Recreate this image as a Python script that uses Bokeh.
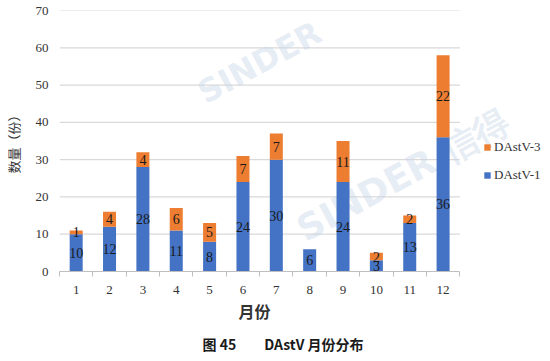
from bokeh.plotting import figure
from bokeh.models import ColumnDataSource, Legend, LegendItem, Label, Title, FixedTicker, Range1d
from bokeh.core.properties import value
from bokeh.embed import file_html
from bokeh.resources import INLINE

months = [1, 2, 3, 4, 5, 6, 7, 8, 9, 10, 11, 12]
dastv1 = [10, 12, 28, 11, 8, 24, 30, 6, 24, 3, 13, 36]
dastv3 = [1, 4, 4, 6, 5, 7, 7, 0, 11, 2, 2, 22]
series_names = ["DAstV-1", "DAstV-3"]
colors = ["#4472C4", "#ED7D31"]
y_ticks = [0, 10, 20, 30, 40, 50, 60, 70]

SERIF = "Liberation Serif"
CJK = "Noto Sans CJK SC"

# plot area spans 0.5..12.5 (about 406 px); frame extends further right for the legend
p = figure(width=550, height=361, x_range=Range1d(0.5, 15.22), y_range=(0, 70),
           output_backend="svg", toolbar_location=None,
           min_border_left=52, min_border_right=0, min_border_top=10, min_border_bottom=89)
p.outline_line_color = None
p.background_fill_color = "white"

# faint watermark (inside frame)
for (wx, wy, t, ang, fs) in [(150, 160, "SINDER", 0.5, "32px"),
                             (250, 22, "SINDER 信得", 0.5, "36px")]:
    p.add_layout(Label(x=wx, y=wy, x_units="screen", y_units="screen", text=t,
                       angle=ang, text_font="DejaVu Sans", text_font_size=fs,
                       text_font_style="bold", text_color="#C9D6E8", text_alpha=0.45,
                       level="underlay"))

# horizontal gridlines limited to the plot area
p.segment(x0=0.5, x1=12.5, y0=y_ticks[1:], y1=y_ticks[1:], line_color="#D9D9D9",
          line_width=1.2, level="underlay")

src = ColumnDataSource(dict(month=months, DAstV1=dastv1, DAstV3=dastv3))
r = p.vbar_stack(["DAstV1", "DAstV3"], x="month", width=0.39, color=colors, source=src,
                 line_color=None)

# data labels
lx, ly, lt = [], [], []
for m, a, b in zip(months, dastv1, dastv3):
    if a:
        lx.append(m); ly.append(a / 2); lt.append(str(a))
    if b:
        lx.append(m); ly.append(a + b / 2); lt.append(str(b))
p.text(x=lx, y=ly, text=lt, text_align="center", text_baseline="middle",
       text_font=value(SERIF), text_font_size="14px", text_color="#1a1a1a")

# axes
p.yaxis.ticker = y_ticks
p.yaxis.axis_line_color = None
p.yaxis.major_tick_line_color = None
p.yaxis.minor_tick_line_color = None
p.yaxis.major_label_text_font = SERIF
p.yaxis.major_label_text_font_size = "13px"
p.yaxis.major_label_text_color = "#333333"
p.yaxis.axis_label = "数量（份）"
p.yaxis.axis_label_text_font = CJK
p.yaxis.axis_label_text_font_style = "normal"
p.yaxis.axis_label_text_font_size = "13px"
p.yaxis.axis_label_text_color = "#333333"
p.yaxis.axis_label_standoff = 10

p.xaxis.ticker = FixedTicker(ticks=months, minor_ticks=[m - 0.5 for m in months] + [12.5])
p.xaxis.bounds = (0.5, 12.5)
p.xaxis.axis_line_color = "#BFBFBF"
p.xaxis.major_tick_line_color = None
p.xaxis.minor_tick_line_color = "#BFBFBF"
p.xaxis.minor_tick_in = 0
p.xaxis.minor_tick_out = 5
p.xaxis.major_label_text_font = SERIF
p.xaxis.major_label_text_font_size = "13px"
p.xaxis.major_label_text_color = "#333333"
p.xaxis.major_label_standoff = 8

p.xgrid.grid_line_color = None
p.ygrid.grid_line_color = None

legend = Legend(items=[LegendItem(label=series_names[1], renderers=[r[1]]),
                       LegendItem(label=series_names[0], renderers=[r[0]])],
                location=(424, 88), label_text_font=SERIF, label_text_font_size="13px",
                label_text_color="#333333", glyph_width=8, glyph_height=8,
                label_standoff=3, spacing=12, padding=0, margin=0,
                border_line_color=None, background_fill_alpha=0)
p.add_layout(legend, "center")

xlab = Title(text="月份", text_font=CJK, text_font_size="16px",
             text_font_style="bold", text_color="#333333", align="left", offset=179,
             standoff=1)
p.add_layout(xlab, "below")

cap = Title(text="图 45\u2003\u2003DAstV 月份分布", text_font=CJK, text_font_size="14px",
            text_font_style="bold", text_color="#1a1a1a", align="left", offset=143,
            standoff=16)
p.add_layout(cap, "below")

open("out.html", "w").write(file_html(p, INLINE))
